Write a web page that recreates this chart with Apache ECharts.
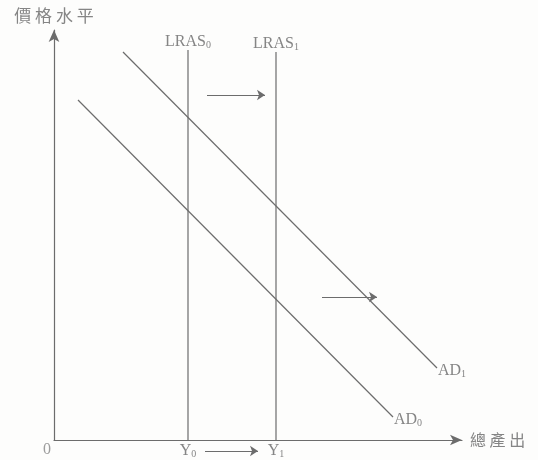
<!DOCTYPE html>
<html>
<head>
<meta charset="utf-8">
<script src="https://cdn.jsdelivr.net/npm/echarts@6/dist/echarts.min.js"></script>
<style>
  html, body { margin: 0; padding: 0; background: #fdfdfc; }
  #main { width: 538px; height: 460px; }
</style>
</head>
<body>
<div id="main"></div>
<script>
// 坐标: 横轴 0~408 (總產出), 纵轴 0~410 (價格水平)
var lrasX = [134, 222];              // Y0, Y1
var lrasTop = [390, 388];
var lrasNames = ['0', '1'];
var ad0 = [[24, 340], [339, 23]];
var ad1 = [[69, 388], [383, 72]];
var shiftArrows = [
  [[153, 345], [211, 345]],
  [[268, 143], [323, 143]],
  [[151, -11], [204, -11]]
];

var lineCol = '#6c6c6c';
var textCol = '#858585';
var serif = '"Liberation Serif", "DejaVu Serif", serif';
var cjk = '"Noto Sans CJK TC", "Noto Sans CJK SC", sans-serif';

function sub(main, s) {
  return '{m|' + main + '}{s|' + s + '}';
}
function spaced(t) {
  return t.split('').join(' ');
}
var rich = {
  m: { fontFamily: serif, fontSize: 16, color: textCol },
  s: { fontFamily: serif, fontSize: 10, color: textCol, verticalAlign: 'bottom', padding: [7, 0, 0, 0] }
};
function lbl(pos, text, extra) {
  var o = { show: true, position: pos, formatter: text, rich: rich };
  for (var k in extra) o[k] = extra[k];
  return o;
}
var dot = { symbol: 'circle', symbolSize: 0, showSymbol: true };

var series = [];
lrasX.forEach(function (x, i) {
  series.push(Object.assign({
    type: 'line', clip: false, silent: true,
    lineStyle: { color: lineCol, width: 1.2 },
    data: [
      { value: [x, 0], label: lbl('bottom', sub('Y', lrasNames[i]), { distance: 2 }) },
      { value: [x, lrasTop[i]], label: lbl('top', sub('LRAS', lrasNames[i]), { distance: 0 }) }
    ]
  }, dot));
});
[[ad0, '0'], [ad1, '1']].forEach(function (d) {
  series.push(Object.assign({
    type: 'line', clip: false, silent: true,
    lineStyle: { color: lineCol, width: 1.2 },
    data: [
      { value: d[0][0] },
      { value: d[0][1], label: lbl('right', sub('AD', d[1]), { distance: 1, offset: [0, 3] }) }
    ]
  }, dot));
});
series.push({
  type: 'lines', coordinateSystem: 'cartesian2d', clip: false, silent: true,
  symbol: ['none', 'arrow'], symbolSize: 8,
  lineStyle: { color: lineCol, width: 1.2, opacity: 1 },
  data: shiftArrows.map(function (a) { return { coords: a }; })
});
series.push({
  type: 'scatter', clip: false, symbolSize: 0, silent: true,
  data: [{ value: [0, 0], label: lbl('bottom', '{m|0}', { distance: 2, offset: [-7, 0] }) }]
});

var chart = echarts.init(document.getElementById('main'));
chart.setOption({
  backgroundColor: '#fdfdfc',
  animation: false,
  grid: { left: 54, top: 30, width: 408, height: 410 },
  xAxis: {
    type: 'value', min: 0, max: 408,
    name: spaced('總產出'), nameLocation: 'end', nameGap: 8,
    nameTextStyle: { fontFamily: cjk, fontSize: 16, color: textCol },
    axisLine: { lineStyle: { color: lineCol, width: 1.2 }, symbol: ['none', 'arrow'], symbolSize: [8, 12] },
    axisTick: { show: false }, axisLabel: { show: false }, splitLine: { show: false }
  },
  yAxis: {
    type: 'value', min: 0, max: 410,
    name: spaced('價格水平'), nameLocation: 'end', nameGap: 6,
    nameTextStyle: { fontFamily: cjk, fontSize: 17, color: textCol, align: 'center' },
    axisLine: { lineStyle: { color: lineCol, width: 1.2 }, symbol: ['none', 'arrow'], symbolSize: [8, 12] },
    axisTick: { show: false }, axisLabel: { show: false }, splitLine: { show: false }
  },
  series: series
});
</script>
</body>
</html>
